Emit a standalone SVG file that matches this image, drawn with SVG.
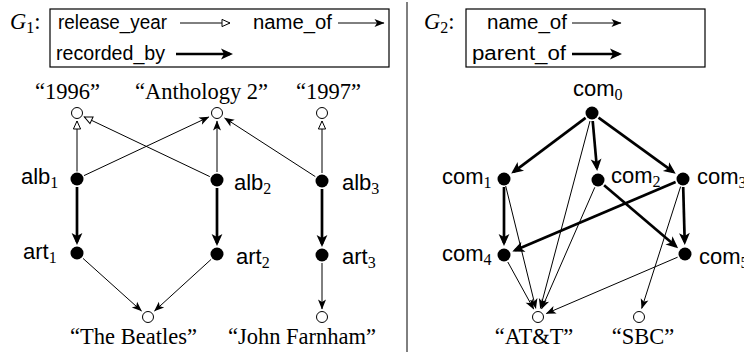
<svg xmlns="http://www.w3.org/2000/svg" width="744" height="362" viewBox="0 0 744 362">
  <defs>
    <style>
      .rm { font-family: "Liberation Serif", "DejaVu Serif", serif; font-size: 22.5px; fill: #000; }
      .it { font-style: italic; }
      .ss { font-family: "Liberation Sans", "DejaVu Sans", sans-serif; font-size: 20px; fill: #000; }
      .lbl { font-family: "Liberation Sans", "DejaVu Sans", sans-serif; font-size: 22px; fill: #000; }
      .sub { font-family: "Liberation Serif", "DejaVu Serif", serif; font-size: 16px; }
      .box { fill: none; stroke: #000; stroke-width: 1.2; }
      .thin { fill: none; stroke: #000; stroke-width: 1; }
      .thick { fill: none; stroke: #000; stroke-width: 2.7; }
      .val { fill: #fff; stroke: #000; stroke-width: 1; }
      .ent { fill: #000; }
      .name { marker-end: url(#headThin); }
      .year { marker-end: url(#headOpen); }
      .rel { marker-end: url(#headThick); }
    </style>
    <marker id="headThin" markerUnits="userSpaceOnUse" orient="auto" markerWidth="20" markerHeight="20" refX="0" refY="0" overflow="visible">
      <path d="M0.5,0 L-9.5,-4 L-7,0 L-9.5,4 Z" fill="#000"/>
    </marker>
    <marker id="headThick" markerUnits="userSpaceOnUse" orient="auto" markerWidth="20" markerHeight="20" refX="0" refY="0" overflow="visible">
      <path d="M3,0 L-9,-5.4 L-6,0 L-9,5.4 Z" fill="#000"/>
    </marker>
    <marker id="headOpen" markerUnits="userSpaceOnUse" orient="auto" markerWidth="20" markerHeight="20" refX="0" refY="0" overflow="visible">
      <path d="M0,0 L-8,-3.6 L-8,3.6 Z" fill="#fff" stroke="#000" stroke-width="1"/>
    </marker>
  </defs>

  <rect width="744" height="362" fill="#fff"/>

  <!-- left panel: G1 title and legend -->
  <g id="g1-legend">
    <text class="rm" x="10" y="29"><tspan class="it">G</tspan><tspan class="sub" dy="4">1</tspan><tspan dy="-4">:</tspan></text>
    <rect class="box" x="50" y="9" width="339" height="58"/>
    <text class="ss" x="58" y="29" textLength="109" lengthAdjust="spacingAndGlyphs">release_year</text>
    <line class="thin year" x1="180" y1="23" x2="230" y2="23"/>
    <text class="ss" x="253" y="29" textLength="79" lengthAdjust="spacingAndGlyphs">name_of</text>
    <line class="thin name" x1="338" y1="23" x2="384" y2="23"/>
    <text class="ss" x="56" y="60" textLength="109" lengthAdjust="spacingAndGlyphs">recorded_by</text>
    <line class="thick rel" x1="176" y1="54" x2="230" y2="54"/>
  </g>

  <!-- panel divider -->
  <line x1="407" y1="2" x2="407" y2="352" stroke="#000" stroke-width="1"/>

  <!-- right panel: G2 title and legend -->
  <g id="g2-legend">
    <text class="rm" x="424" y="29"><tspan class="it">G</tspan><tspan class="sub" dy="4">2</tspan><tspan dy="-4">:</tspan></text>
    <rect class="box" x="466" y="9" width="239" height="58"/>
    <text class="ss" x="487" y="29" textLength="80" lengthAdjust="spacingAndGlyphs">name_of</text>
    <line class="thin name" x1="572" y1="23" x2="621" y2="23"/>
    <text class="ss" x="472" y="60" textLength="94" lengthAdjust="spacingAndGlyphs">parent_of</text>
    <line class="thick rel" x1="572" y1="54" x2="619" y2="54"/>
  </g>

  <!-- G1 edges -->
  <g id="g1-edges">
    <line class="thin year" x1="77" y1="171.5" x2="77" y2="121"/>
    <line class="thin year" x1="209.8" y1="176.6" x2="84.3" y2="116.9"/>
    <line class="thin year" x1="322" y1="173" x2="322" y2="121"/>
    <line class="thin name" x1="84" y1="175.6" x2="208.8" y2="117"/>
    <line class="thin name" x1="217" y1="172" x2="217" y2="121"/>
    <line class="thin name" x1="315.3" y1="176.6" x2="224.6" y2="118"/>
    <line class="thick rel" x1="77" y1="187" x2="77" y2="242"/>
    <line class="thick rel" x1="217" y1="188" x2="217" y2="243"/>
    <line class="thick rel" x1="322" y1="189" x2="322" y2="244"/>
    <line class="thin name" x1="83" y1="258.4" x2="141.5" y2="311"/>
    <line class="thin name" x1="211.1" y1="259.4" x2="154.5" y2="311"/>
    <line class="thin name" x1="322" y1="263" x2="322" y2="309"/>
  </g>

  <!-- G1 nodes -->
  <g id="v1996"><circle class="val" cx="77" cy="113" r="5.5"/><text class="rm" x="67.5" y="99" text-anchor="middle">“1996”</text></g>
  <g id="vAnthology2"><circle class="val" cx="217" cy="113" r="5.5"/><text class="rm" x="201.5" y="99" text-anchor="middle">“Anthology 2”</text></g>
  <g id="v1997"><circle class="val" cx="322" cy="113" r="5.5"/><text class="rm" x="328.5" y="99" text-anchor="middle">“1997”</text></g>
  <g id="alb1"><circle class="ent" cx="77" cy="179" r="6.5"/><text class="lbl" x="21" y="184">alb<tspan class="sub" dy="4">1</tspan></text></g>
  <g id="alb2"><circle class="ent" cx="217" cy="180" r="6.5"/><text class="lbl" x="234" y="190">alb<tspan class="sub" dy="4">2</tspan></text></g>
  <g id="alb3"><circle class="ent" cx="322" cy="181" r="6.5"/><text class="lbl" x="342" y="190">alb<tspan class="sub" dy="4">3</tspan></text></g>
  <g id="art1"><circle class="ent" cx="77" cy="253" r="6.5"/><text class="lbl" x="23" y="259">art<tspan class="sub" dy="4">1</tspan></text></g>
  <g id="art2"><circle class="ent" cx="217" cy="254" r="6.5"/><text class="lbl" x="236" y="264">art<tspan class="sub" dy="4">2</tspan></text></g>
  <g id="art3"><circle class="ent" cx="322" cy="255" r="6.5"/><text class="lbl" x="342" y="264">art<tspan class="sub" dy="4">3</tspan></text></g>
  <g id="vBeatles"><circle class="val" cx="148" cy="317" r="5.5"/><text class="rm" x="133.5" y="344" text-anchor="middle">“The Beatles”</text></g>
  <g id="vFarnham"><circle class="val" cx="322" cy="317" r="5.5"/><text class="rm" x="302" y="344" text-anchor="middle">“John Farnham”</text></g>

  <!-- G2 edges -->
  <g id="g2-edges">
    <line class="thick rel" x1="585.6" y1="117.8" x2="513.6" y2="171.8"/>
    <line class="thick rel" x1="592.7" y1="121" x2="596.9" y2="168"/>
    <line class="thick rel" x1="598.5" y1="117.7" x2="673.3" y2="171.9"/>
    <line class="thick rel" x1="504" y1="187" x2="504" y2="243"/>
    <line class="thick rel" x1="683.2" y1="187" x2="684.7" y2="242"/>
    <line class="thick rel" x1="675.6" y1="182.1" x2="515.1" y2="250.3"/>
    <line class="thick rel" x1="604.1" y1="185.2" x2="675.8" y2="246.3"/>
    <line class="thin name" x1="590" y1="121" x2="540.3" y2="308.3"/>
    <line class="thin name" x1="505.7" y1="186" x2="535.8" y2="308.3"/>
    <line class="thin name" x1="594.8" y1="187.3" x2="541.6" y2="308.8"/>
    <line class="thin name" x1="507.8" y1="262" x2="533.7" y2="309.1"/>
    <line class="thin name" x1="677.6" y1="257.2" x2="546.3" y2="313.5"/>
    <line class="thin name" x1="680.6" y1="186.6" x2="641.7" y2="308.4"/>
  </g>

  <!-- G2 nodes -->
  <g id="com0"><circle class="ent" cx="592" cy="113" r="6.5"/><text class="lbl" x="573" y="96">com<tspan class="sub" dy="4">0</tspan></text></g>
  <g id="com1"><circle class="ent" cx="504" cy="179" r="6.5"/><text class="lbl" x="442" y="184">com<tspan class="sub" dy="4">1</tspan></text></g>
  <g id="com2"><circle class="ent" cx="598" cy="180" r="6.5"/><text class="lbl" x="611" y="183">com<tspan class="sub" dy="4">2</tspan></text></g>
  <g id="com3"><circle class="ent" cx="683" cy="179" r="6.5"/><text class="lbl" x="697" y="184">com<tspan class="sub" dy="4">3</tspan></text></g>
  <g id="com4"><circle class="ent" cx="504" cy="255" r="6.5"/><text class="lbl" x="442" y="261">com<tspan class="sub" dy="4">4</tspan></text></g>
  <g id="com5"><circle class="ent" cx="685" cy="254" r="6.5"/><text class="lbl" x="699" y="264">com<tspan class="sub" dy="4">5</tspan></text></g>
  <g id="vATT"><circle class="val" cx="538" cy="317" r="5.5"/><text class="rm" x="534" y="344" text-anchor="middle">“AT&amp;T”</text></g>
  <g id="vSBC"><circle class="val" cx="639" cy="317" r="5.5"/><text class="rm" x="643" y="344" text-anchor="middle">“SBC”</text></g>
</svg>
